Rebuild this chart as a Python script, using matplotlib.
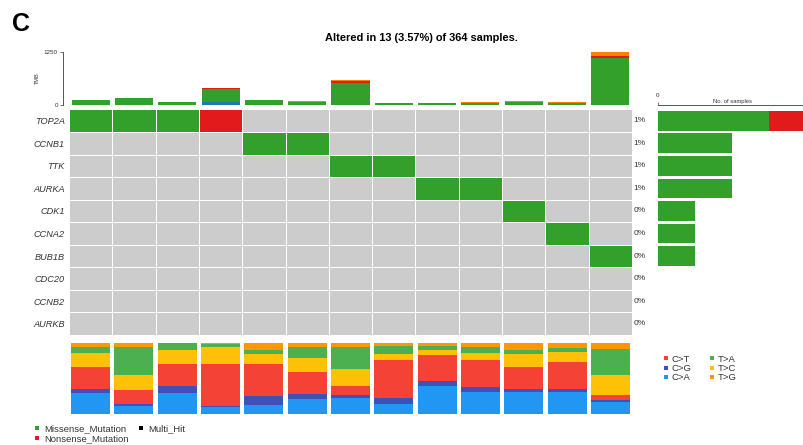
import matplotlib
matplotlib.use("Agg")
import matplotlib.pyplot as plt
from matplotlib.colors import ListedColormap
from matplotlib.lines import Line2D
import numpy as np

plt.rcParams['font.family'] = ['Liberation Sans', 'DejaVu Sans']

# ---- data ----
genes = ["TOP2A", "CCNB1", "TTK", "AURKA", "CDK1", "CCNA2", "BUB1B", "CDC20", "CCNB2", "AURKB"]
n_samples = 13
pct_labels = ["1%", "1%", "1%", "1%", "0%", "0%", "0%", "0%", "0%", "0%"]

# 0 = none, 1 = missense, 2 = nonsense ; one row per gene, one column per sample
onco = [
    [1, 1, 1, 2, 0, 0, 0, 0, 0, 0, 0, 0, 0],
    [0, 0, 0, 0, 1, 1, 0, 0, 0, 0, 0, 0, 0],
    [0, 0, 0, 0, 0, 0, 1, 1, 0, 0, 0, 0, 0],
    [0, 0, 0, 0, 0, 0, 0, 0, 1, 1, 0, 0, 0],
    [0, 0, 0, 0, 0, 0, 0, 0, 0, 0, 1, 0, 0],
    [0, 0, 0, 0, 0, 0, 0, 0, 0, 0, 0, 1, 0],
    [0, 0, 0, 0, 0, 0, 0, 0, 0, 0, 0, 0, 1],
    [0] * 13,
    [0] * 13,
    [0] * 13,
]

# per-sample TMB, split by variant class
tmb_missense = [108, 160, 66, 315, 110, 82, 527, 36, 44, 58, 82, 58, 1100]
tmb_frameshift = [0, 0, 0, 71, 0, 0, 0, 0, 0, 0, 0, 0, 0]
tmb_nonsense = [0, 0, 0, 12, 0, 0, 47, 0, 0, 0, 0, 0, 63]
tmb_splice = [10, 13, 5, 12, 8, 5, 16, 3, 3, 5, 5, 5, 94]

# side bar: number of samples per gene
side_missense = [3, 2, 2, 2, 1, 1, 1, 0, 0, 0]
side_nonsense = [1, 0, 0, 0, 0, 0, 0, 0, 0, 0]

# transition / transversion fractions per sample (bottom to top)
titv_classes = ["C>A", "C>G", "C>T", "T>C", "T>A", "T>G"]
titv_CA = [0.296, 0.117, 0.296, 0.100, 0.131, 0.216, 0.225, 0.146, 0.390, 0.305, 0.305, 0.305, 0.164]
titv_CG = [0.061, 0.028, 0.103, 0.010, 0.117, 0.066, 0.047, 0.080, 0.070, 0.075, 0.047, 0.052, 0.038]
titv_CT = [0.300, 0.197, 0.310, 0.600, 0.455, 0.310, 0.117, 0.530, 0.376, 0.376, 0.305, 0.376, 0.070]
titv_TC = [0.202, 0.211, 0.188, 0.235, 0.146, 0.197, 0.244, 0.089, 0.070, 0.103, 0.192, 0.141, 0.272]
titv_TA = [0.085, 0.385, 0.103, 0.035, 0.056, 0.150, 0.305, 0.117, 0.047, 0.080, 0.056, 0.056, 0.376]
titv_TG = [0.056, 0.062, 0.000, 0.020, 0.095, 0.061, 0.062, 0.038, 0.047, 0.061, 0.095, 0.070, 0.080]

# ---- colours ----
col_bg = "#CCCCCC"
col_mis = "#33A02C"
col_non = "#E31A1C"
col_fs = "#1F78B4"
col_spl = "#FF7F00"
titv_colors = {"C>T": "#F44336", "C>G": "#3F51B5", "C>A": "#2196F3",
               "T>A": "#4CAF50", "T>C": "#FFC107", "T>G": "#FF9800"}
txt = "#333333"

W, H = 804, 445
fig = plt.figure(figsize=(W / 100, H / 100), dpi=100)


def box(x0, y0, x1, y1):
    # pixel box (top-left origin) -> figure fraction rect
    return [x0 / W, 1 - y1 / H, (x1 - x0) / W, (y1 - y0) / H]


gx0, gx1 = 69, 632
ax_grid = fig.add_axes(box(gx0, 109.5, gx1, 335))
ax_tmb = fig.add_axes(box(gx0, 52, gx1, 105))
ax_titv = fig.add_axes(box(gx0, 343, gx1, 414))
ax_side = fig.add_axes(box(658, 109.5, 806, 335))

x = np.arange(n_samples)

# ---- oncoplot grid ----
cmap = ListedColormap([col_bg, col_mis, col_non])
ax_grid.pcolormesh(np.arange(n_samples + 1) - 0.5, np.arange(len(genes) + 1) - 0.5,
                   np.array(onco), cmap=cmap, vmin=0, vmax=2,
                   edgecolors="white", linewidth=0.5)
ax_grid.set_xlim(-0.5, n_samples - 0.5)
ax_grid.set_ylim(len(genes) - 0.5, -0.5)
ax_grid.set_xticks([])
ax_grid.set_yticks(range(len(genes)))
ax_grid.set_yticklabels(genes, fontstyle="italic", fontsize=6.6, color=txt)
ax_grid.tick_params(axis="y", length=0, pad=3)
for s in ax_grid.spines.values():
    s.set_visible(False)
for i, p in enumerate(pct_labels):
    ax_grid.text(n_samples - 0.5 + 0.03, i, p, ha="left", va="center",
                 fontsize=6, color=txt, clip_on=False)

# ---- TMB bars ----
bw = 0.88
b = np.zeros(n_samples)
for vals, c in [(tmb_frameshift, col_fs), (tmb_missense, col_mis),
                (tmb_nonsense, col_non), (tmb_splice, col_spl)]:
    ax_tmb.bar(x, vals, bottom=b, width=bw, color=c, linewidth=0)
    b += np.array(vals)
ax_tmb.set_xlim(-0.5, n_samples - 0.5)
ax_tmb.set_ylim(0, 1250)
ax_tmb.set_xticks([])
ax_tmb.set_yticks([0, 1250])
ax_tmb.tick_params(axis="y", labelsize=4.5, length=2.5, width=0.6,
                   colors="#555555", labelcolor=txt, pad=1.5)
ax_tmb.spines["left"].set_position(("outward", 4))
ax_tmb.spines["left"].set_color("#555555")
ax_tmb.spines["left"].set_linewidth(0.7)
for k in ["top", "right", "bottom"]:
    ax_tmb.spines[k].set_visible(False)
ax_tmb.set_ylabel("TMB", fontsize=4, color=txt, labelpad=3)

# ---- side bars ----
yg = np.arange(len(genes))
ax_side.barh(yg, side_missense, height=0.88, color=col_mis, linewidth=0)
ax_side.barh(yg, side_nonsense, left=side_missense, height=0.88, color=col_non, linewidth=0)
ax_side.set_ylim(len(genes) - 0.5, -0.5)
ax_side.set_xlim(0, 4)
ax_side.set_yticks([])
ax_side.xaxis.tick_top()
ax_side.set_xticks([0, 4])
ax_side.set_xticklabels(["0", ""])
ax_side.tick_params(axis="x", labelsize=4.5, length=2.5, width=0.6,
                    colors="#555555", labelcolor=txt, pad=3)
ax_side.spines["top"].set_position(("outward", 3))
ax_side.spines["top"].set_color("#555555")
ax_side.spines["top"].set_linewidth(0.7)
for k in ["left", "right", "bottom"]:
    ax_side.spines[k].set_visible(False)
fig.text(733 / W, 1 - 101 / H, "No. of samples", ha="center", va="center",
         fontsize=4.2, color=txt)

# ---- Ti/Tv bars ----
titv_vals = {"C>A": titv_CA, "C>G": titv_CG, "C>T": titv_CT,
             "T>C": titv_TC, "T>A": titv_TA, "T>G": titv_TG}
b = np.zeros(n_samples)
for cl in titv_classes:
    v = np.array(titv_vals[cl])
    ax_titv.bar(x, v, bottom=b, width=0.9, color=titv_colors[cl], linewidth=0)
    b += v
ax_titv.set_xlim(-0.5, n_samples - 0.5)
ax_titv.set_ylim(0, b.max())
ax_titv.axis("off")

# ---- titles ----
fig.text(12 / W, 1 - 24 / H, "C", fontsize=18, fontweight="bold", va="center", ha="left")
fig.text(421 / W, 1 - 38 / H, "Altered in 13 (3.57%) of 364 samples.",
         fontsize=7.9, fontweight="bold", ha="center", va="center")

# ---- legends ----
def sq(c):
    return Line2D([], [], marker="s", linestyle="none", markersize=3.2,
                  markerfacecolor=c, markeredgewidth=0)

fig.legend([sq(col_mis), sq(col_non), sq("black")],
           ["Missense_Mutation", "Nonsense_Mutation", "Multi_Hit"],
           ncol=2, loc="upper left", bbox_to_anchor=(34 / W, 1 - 424 / H),
           frameon=False, fontsize=6.8, handlelength=0.6, handletextpad=0.5,
           columnspacing=1.0, labelspacing=0.1, borderaxespad=0, borderpad=0,
           labelcolor=txt)

order = ["C>T", "C>G", "C>A", "T>A", "T>C", "T>G"]
fig.legend([sq(titv_colors[c]) for c in order], order,
           ncol=2, loc="upper left", bbox_to_anchor=(663 / W, 1 - 354.5 / H),
           frameon=False, fontsize=6.8, handlelength=0.6, handletextpad=0.35,
           columnspacing=1.8, labelspacing=0.05, borderaxespad=0, borderpad=0,
           labelcolor=txt)

fig.savefig("out.png", dpi=100)
